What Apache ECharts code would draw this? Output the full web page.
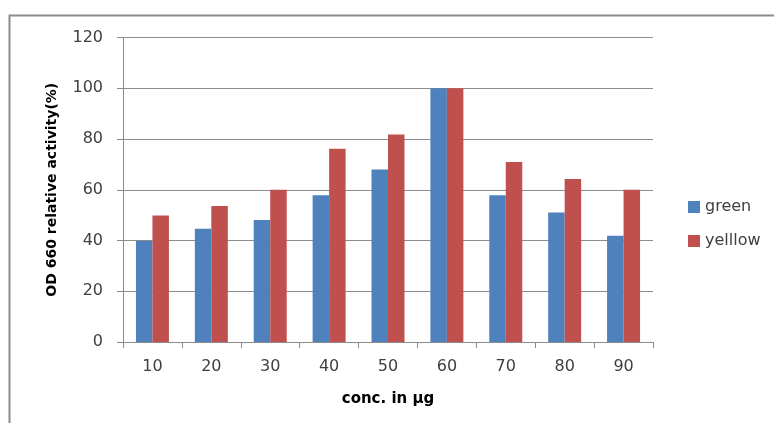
<!DOCTYPE html>
<html><head><meta charset="utf-8">
<script src="https://cdn.jsdelivr.net/npm/echarts@6/dist/echarts.min.js"></script>
<style>html,body{margin:0;padding:0;background:#fff}#c{width:774px;height:423px}</style>
</head><body><div id="c"></div>
<script>
const categories = ['10','20','30','40','50','60','70','80','90'];
const green = [39.8, 44.6, 48.1, 57.8, 68.0, 100, 57.8, 51.0, 41.9];
const yellow = [49.9, 53.6, 60.0, 76.2, 81.8, 100, 70.9, 64.2, 60.0];
const seriesNames = ['green', 'yelllow'];
const yTicks = {min: 0, max: 120, interval: 20};

const chart = echarts.init(document.getElementById('c'));
const font = 'DejaVu Sans';
chart.setOption({
  animation: false,
  graphic: [{
    type: 'polyline', silent: true,
    shape: {points: [[9.5, 430], [9.5, 15.5], [780, 15.5]]},
    style: {stroke: '#8c8c8c', lineWidth: 2, fill: null}
  }],
  grid: {left: 123, right: 121, top: 37.5, bottom: 81, containLabel: false},
  legend: {
    orient: 'vertical', left: 683, top: 194, itemGap: 18,
    itemWidth: 12, itemHeight: 12, icon: 'rect',
    textStyle: {fontFamily: font, fontSize: 16, color: '#404040'},
    data: seriesNames
  },
  xAxis: {
    type: 'category', data: categories,
    axisLine: {lineStyle: {color: '#8c8c8c', width: 1}},
    axisTick: {show: true, length: 6, inside: false, lineStyle: {color: '#8c8c8c'}},
    axisLabel: {fontFamily: font, fontSize: 16, color: '#404040', margin: 17},
    name: 'conc. in µg', nameLocation: 'middle', nameGap: 50,
    nameTextStyle: {fontFamily: font, fontSize: 15, fontWeight: 'bold', color: '#000'}
  },
  yAxis: {
    type: 'value', min: yTicks.min, max: yTicks.max, interval: yTicks.interval,
    axisLine: {show: true, lineStyle: {color: '#8c8c8c', width: 1}},
    axisTick: {show: true, length: 6, lineStyle: {color: '#8c8c8c'}},
    splitLine: {lineStyle: {color: '#8c8c8c', width: 1}},
    axisLabel: {fontFamily: font, fontSize: 16, color: '#404040', margin: 20},
    name: 'OD 660 relative activity(%)', nameLocation: 'middle', nameGap: 64,
    nameTextStyle: {fontFamily: font, fontSize: 14, fontWeight: 'bold', color: '#000'}
  },
  series: [
    {name: seriesNames[0], type: 'bar', data: green, barGap: '0%', barCategoryGap: '44%',
     itemStyle: {color: '#4F81BD'}},
    {name: seriesNames[1], type: 'bar', data: yellow, barGap: '0%', barCategoryGap: '44%',
     itemStyle: {color: '#C0504D'}}
  ]
});
</script></body></html>
